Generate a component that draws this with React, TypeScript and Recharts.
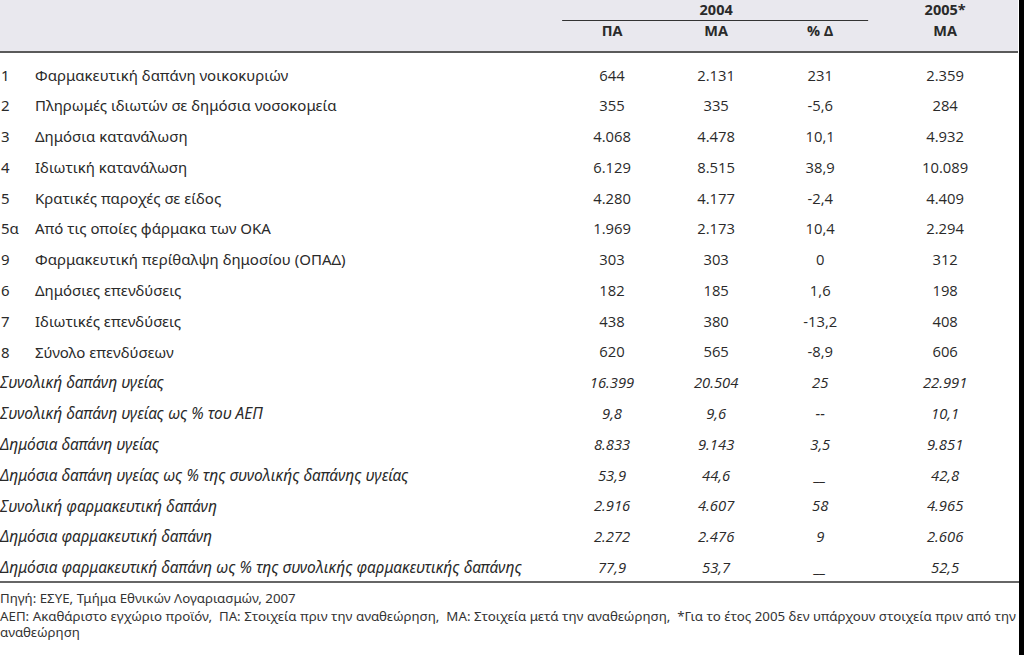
import React from 'react';
import { ScatterChart, Scatter, XAxis, YAxis } from 'recharts';

// row codes and labels (rows without code are the italic summary rows)
const rowCodes = ['1', '2', '3', '4', '5', '5α', '9', '6', '7', '8', '', '', '', '', '', '', ''];
const rowLabels = [
  'Φαρμακευτική δαπάνη νοικοκυριών',
  'Πληρωμές ιδιωτών σε δημόσια νοσοκομεία',
  'Δημόσια κατανάλωση',
  'Ιδιωτική κατανάλωση',
  'Κρατικές παροχές σε είδος',
  'Από τις οποίες φάρμακα των ΟΚΑ',
  'Φαρμακευτική περίθαλψη δημοσίου (ΟΠΑΔ)',
  'Δημόσιες επενδύσεις',
  'Ιδιωτικές επενδύσεις',
  'Σύνολο επενδύσεων',
  'Συνολική δαπάνη υγείας',
  'Συνολική δαπάνη υγείας ως % του ΑΕΠ',
  'Δημόσια δαπάνη υγείας',
  'Δημόσια δαπάνη υγείας ως % της συνολικής δαπάνης υγείας',
  'Συνολική φαρμακευτική δαπάνη',
  'Δημόσια φαρμακευτική δαπάνη',
  'Δημόσια φαρμακευτική δαπάνη ως % της συνολικής φαρμακευτικής δαπάνης',
];

const pa2004 = ['644', '355', '4.068', '6.129', '4.280', '1.969', '303', '182', '438', '620', '16.399', '9,8', '8.833', '53,9', '2.916', '2.272', '77,9'];
const ma2004 = ['2.131', '335', '4.478', '8.515', '4.177', '2.173', '303', '185', '380', '565', '20.504', '9,6', '9.143', '44,6', '4.607', '2.476', '53,7'];
const change2004 = ['231', '-5,6', '10,1', '38,9', '-2,4', '10,4', '0', '1,6', '-13,2', '-8,9', '25', '--', '3,5', '__', '58', '9', '__'];
const ma2005 = ['2.359', '284', '4.932', '10.089', '4.409', '2.294', '312', '198', '408', '606', '22.991', '10,1', '9.851', '42,8', '4.965', '2.606', '52,5'];

const columnHeads = ['ΠΑ', 'ΜΑ', '% Δ', 'ΜΑ'];
const columns = [pa2004, ma2004, change2004, ma2005];
// slot of each column on the x scale (2005 sits a bit apart)
const colSlots = [0, 1, 2, 3.2];

const FIRST_ITALIC = 10;
const TEXT = '#2a2a2a';
const LABEL_FONT = '"Noto Sans", sans-serif';
const NUM_FONT = '"Open Sans", sans-serif';

const RowTick = (props: any) => {
  const { y, payload } = props;
  const i = payload.index;
  const italic = i >= FIRST_ITALIC;
  return (
    <g>
      {rowCodes[i] && (
        <text x={1} y={y} dy="0.35em" fill={TEXT} fontSize={15} fontFamily={LABEL_FONT}>
          {rowCodes[i]}
        </text>
      )}
      <text
        x={italic ? 0 : 35}
        y={y}
        dy="0.35em"
        fill={TEXT}
        fontSize={italic ? 15.5 : 15}
        fontStyle={italic ? 'italic' : 'normal'}
        fontFamily={LABEL_FONT}
      >
        {rowLabels[i]}
      </text>
    </g>
  );
};

const HeadTick = (props: any) => {
  const { x, payload, index } = props;
  return (
    <g>
      {index === 1 && (
        <>
          <text x={x} y={10} dy="0.35em" textAnchor="middle" fill={TEXT} fontSize={14.5} fontWeight={700} fontFamily={NUM_FONT}>
            2004
          </text>
          <line x1={x - 154} x2={x + 152} y1={20.5} y2={20.5} stroke="#333" strokeWidth={1.2} />
        </>
      )}
      {index === 3 && (
        <text x={x} y={10} dy="0.35em" textAnchor="middle" fill={TEXT} fontSize={14.5} fontWeight={700} fontFamily={NUM_FONT}>
          2005*
        </text>
      )}
      <text x={x} y={31} dy="0.35em" textAnchor="middle" fill={TEXT} fontSize={14.5} fontWeight={700} fontFamily={NUM_FONT}>
        {columnHeads[colSlots.indexOf(payload.value)]}
      </text>
    </g>
  );
};

const CellText = (props: any) => {
  const { cx, cy, payload } = props;
  return (
    <text
      x={cx}
      y={cy}
      dy="0.35em"
      textAnchor="middle"
      fill={TEXT}
      fontSize={14.8}
      fontStyle={payload.italic ? 'italic' : 'normal'}
      fontFamily={NUM_FONT}
    >
      {payload.text}
    </text>
  );
};

export default function App() {
  const series = columns.map((values, k) =>
    values.map((text, i) => ({
      col: colSlots[k],
      row: rowLabels[i],
      text,
      italic: i >= FIRST_ITALIC,
    }))
  );

  return (
    <div style={{ position: 'absolute', left: 0, top: 0, width: 1024, height: 655, background: '#fff', overflow: 'hidden' }}>
      <div style={{ position: 'absolute', left: 0, top: 0, width: 1018, height: 51, background: '#e9e8ee' }} />
      <div style={{ position: 'absolute', left: 0, top: 51, width: 1018, height: 2, background: '#5a5a5a' }} />
      <div style={{ position: 'absolute', left: 0, top: 581, width: 1019, height: 2, background: '#666' }} />
      <div style={{ position: 'absolute', left: 1019, top: 0, width: 5, height: 655, background: '#000' }} />
      <div style={{ position: 'absolute', left: 0, top: 0 }}>
        <ScatterChart width={1018} height={655} margin={{ top: 0, right: 0, bottom: 72, left: 0 }}>
          <XAxis
            type="number"
            dataKey="col"
            orientation="top"
            domain={[-0.5, 3.9]}
            ticks={colSlots}
            height={60}
            axisLine={false}
            tickLine={false}
            tick={<HeadTick />}
          />
          <YAxis
            type="category"
            dataKey="row"
            reversed
            allowDuplicatedCategory={false}
            width={560}
            axisLine={false}
            tickLine={false}
            interval={0}
            tick={<RowTick />}
          />
          {series.map((data, k) => (
            <Scatter key={k} data={data} isAnimationActive={false} shape={<CellText />} />
          ))}
        </ScatterChart>
      </div>
      <div
        style={{
          position: 'absolute',
          left: 0,
          top: 589,
          width: 1019,
          fontFamily: LABEL_FONT,
          fontSize: 13.3,
          lineHeight: '18px',
          color: '#333',
          whiteSpace: 'pre',
        }}
      >
        <div>Πηγή: ΕΣΥΕ, Τμήμα Εθνικών Λογαριασμών, 2007</div>
        <div style={{ lineHeight: '18px' }}>
          {'ΑΕΠ: Ακαθάριστο εγχώριο προϊόν,  ΠΑ: Στοιχεία πριν την αναθεώρηση,  ΜΑ: Στοιχεία μετά την αναθεώρηση,  *Για το έτος 2005 δεν υπάρχουν στοιχεία πριν από την'}
        </div>
        <div style={{ lineHeight: '15px' }}>αναθεώρηση</div>
      </div>
    </div>
  );
}
